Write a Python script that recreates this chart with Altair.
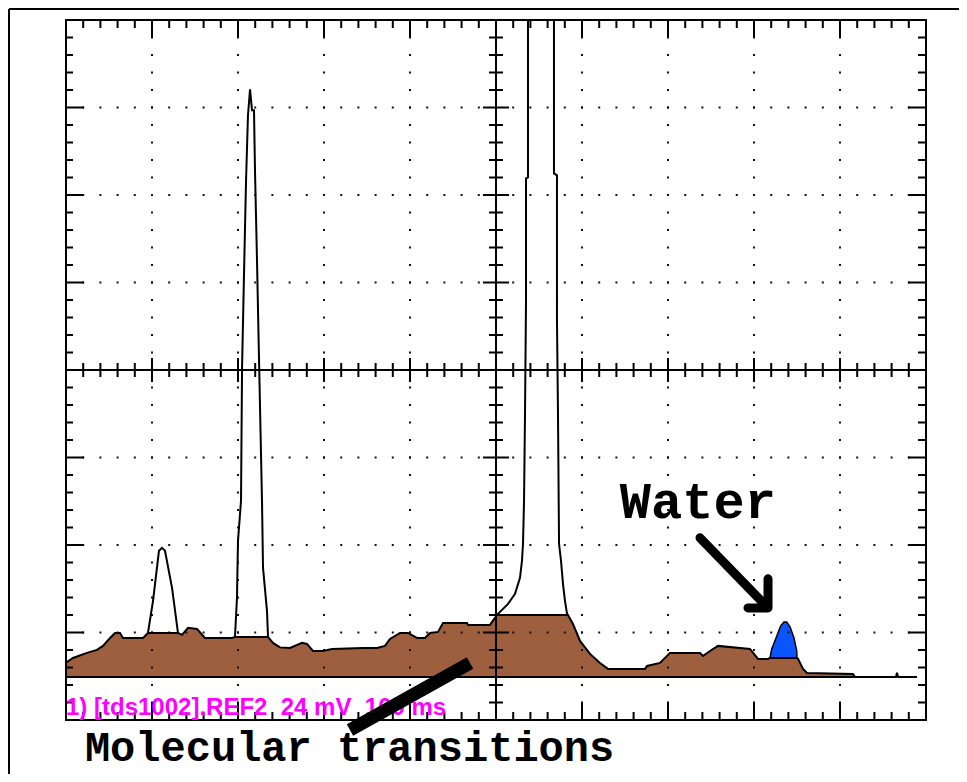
import altair as alt
import pandas as pd

# ---------------- data (x in horizontal divisions 0..10, y in vertical divisions 0..8) ----------------
BASELINE = 0.492          # zero level of the stored reference trace
WATER_BASE = 0.709        # level on which the water line sits

# brown filled background (molecular transitions)
brown_x = [0.000, 0.081, 0.244, 0.360, 0.430, 0.512, 0.570, 0.628, 0.663, 0.895, 0.953, 1.302, 1.349,
           1.419, 1.523, 1.616, 1.930, 1.965, 2.349, 2.407, 2.488, 2.605, 2.744, 2.802, 2.872, 2.988,
           3.093, 3.453, 3.616, 3.709, 3.767, 3.884, 3.977, 4.081, 4.174, 4.233, 4.326, 4.384, 4.663,
           4.674, 4.930, 4.988, 5.012, 5.837, 5.895, 5.977, 6.093, 6.209, 6.302, 6.733, 6.756, 6.907,
           7.023, 7.372, 7.407, 7.488, 7.581, 7.953, 8.047, 8.163, 8.186, 8.500, 8.512, 8.570, 8.616,
           9.151, 9.174]
brown_y = [0.656, 0.709, 0.767, 0.801, 0.847, 0.938, 0.995, 0.995, 0.938, 0.938, 0.995, 0.995, 0.973,
           1.053, 1.041, 0.938, 0.938, 0.950, 0.950, 0.881, 0.830, 0.824, 0.881, 0.870, 0.789, 0.789,
           0.812, 0.824, 0.824, 0.847, 0.927, 0.995, 0.995, 0.938, 0.938, 0.995, 1.007, 1.110, 1.110,
           1.087, 1.087, 1.167, 1.201, 1.201, 1.098, 0.904, 0.755, 0.652, 0.584, 0.584, 0.618, 0.652,
           0.767, 0.767, 0.732, 0.789, 0.847, 0.812, 0.698, 0.698, 0.709, 0.709, 0.698, 0.584, 0.538,
           0.526, 0.492]

# peaks of the live trace (black outline only)
peak1_x = [0.953, 1.012, 1.081, 1.116, 1.151, 1.233, 1.302]
peak1_y = [0.995, 1.362, 1.934, 1.968, 1.934, 1.510, 0.995]

peak2_x = [1.965, 1.988, 2.000, 2.035, 2.047, 2.070, 2.093, 2.116, 2.140, 2.163, 2.186, 2.198, 2.221,
           2.244, 2.279, 2.291, 2.337, 2.349]
peak2_y = [0.950, 1.396, 2.048, 2.506, 4.016, 5.103, 6.144, 6.911, 7.208, 6.968, 6.968, 6.259, 5.252,
           4.142, 2.506, 1.739, 1.247, 0.950]

peak3_x = [5.012, 5.023, 5.140, 5.221, 5.279, 5.302, 5.314, 5.326, 5.337, 5.349, 5.349, 5.372, 5.372,
           5.674, 5.674, 5.709, 5.709, 5.721, 5.733, 5.756, 5.779, 5.802, 5.826, 5.837]
peak3_y = [1.201, 1.213, 1.327, 1.442, 1.625, 1.819, 2.014, 2.506, 3.478, 4.794, 6.190, 6.201, 8.600,
           8.600, 6.247, 6.224, 4.565, 3.478, 2.014, 1.819, 1.556, 1.362, 1.213, 1.201]

tail_x = [9.174, 9.651, 9.663, 9.675, 9.895]
tail_y = [0.492, 0.492, 0.540, 0.492, 0.492]

# water peak (blue)
water_x = [8.186, 8.206, 8.256, 8.310, 8.349, 8.380, 8.419, 8.465, 8.497, 8.500]
water_y = [0.709, 0.812, 0.938, 1.076, 1.121, 1.121, 1.064, 0.938, 0.789, 0.709]

# annotations
NB = "\u00a0"
water_label = "Water"
molecular_label = "Molecular transitions"
scope_label = "1) [tds1002].REF2" + NB * 2 + "24 mV" + NB * 2 + "100 ms"
water_arrow_x = [7.372, 8.140]
water_arrow_y = [2.082, 1.304]
water_head_x = [7.930, 8.163, 8.163]
water_head_y = [1.281, 1.281, 1.613]
mol_arrow_x = [3.302, 4.698]
mol_arrow_y = [-0.114, 0.652]

# scope graticule
X_DIVS = 10
Y_DIVS = 8
MINOR = 5

BROWN = "#9E5F3F"
BLUE = "#0A55FF"
MAGENTA = "#FF00FF"

# ---------------- scales ----------------
xs = alt.Scale(domain=[0, X_DIVS], nice=False, zero=False)
ys = alt.Scale(domain=[0, Y_DIVS], nice=False, zero=False)


def X(f="x"):
    return alt.X(f, type="quantitative", scale=xs, axis=None)


def Y(f="y"):
    return alt.Y(f, type="quantitative", scale=ys, axis=None)


# ---------------- graticule ----------------
dots = []
for xi in range(1, X_DIVS):
    if xi == X_DIVS // 2:
        continue
    for k in range(1, Y_DIVS * MINOR):
        dots.append({"x": xi, "y": k / MINOR})
for yi in range(1, Y_DIVS):
    if yi == Y_DIVS // 2:
        continue
    for k in range(1, X_DIVS * MINOR):
        dots.append({"x": k / MINOR, "y": yi})
dots_df = pd.DataFrame(dots)
grid_dots = alt.Chart(dots_df).mark_square(size=4, color="#111", opacity=1).encode(x=X(), y=Y())

cross_v = alt.Chart(pd.DataFrame({"x": [X_DIVS / 2]})).mark_rule(color="black", strokeWidth=2).encode(x=X())
cross_h = alt.Chart(pd.DataFrame({"y": [Y_DIVS / 2]})).mark_rule(color="black", strokeWidth=2).encode(y=Y())

# ticks on the crosshair and on the frame
vt = []  # vertical ticks along horizontal lines
for k in range(1, X_DIVS * MINOR):
    major = k % MINOR == 0
    vt.append({"x": k / MINOR, "y": Y_DIVS / 2, "len": 24 if major else 14})
    vt.append({"x": k / MINOR, "y": 0, "len": 36 if major else 16})
    vt.append({"x": k / MINOR, "y": Y_DIVS, "len": 36 if major else 16})
ht = []  # horizontal ticks along vertical lines
for k in range(1, Y_DIVS * MINOR):
    major = k % MINOR == 0
    ht.append({"x": X_DIVS / 2, "y": k / MINOR, "len": 26 if major else 14})
    ht.append({"x": 0, "y": k / MINOR, "len": 36 if major else 14})
    ht.append({"x": X_DIVS, "y": k / MINOR, "len": 36 if major else 16})

vticks = alt.Chart(pd.DataFrame(vt)).mark_tick(orient="vertical", thickness=2, color="black", clip=True, opacity=1).encode(
    x=X(), y=Y(), size=alt.Size("len:Q", scale=None, legend=None))
hticks = alt.Chart(pd.DataFrame(ht)).mark_tick(orient="horizontal", thickness=2, color="black", clip=True, opacity=1).encode(
    x=X(), y=Y(), size=alt.Size("len:Q", scale=None, legend=None))

frame = alt.Chart(pd.DataFrame({"x": [0], "x2": [X_DIVS], "y": [0], "y2": [Y_DIVS]})).mark_rect(
    fillOpacity=0, stroke="black", strokeWidth=2).encode(x=X(), x2="x2", y=Y(), y2="y2")

# ---------------- signal ----------------
brown_df = pd.DataFrame({"x": brown_x, "y": brown_y, "base": BASELINE})
brown_area = alt.Chart(brown_df).mark_area(color=BROWN, opacity=1).encode(x=X(), y=Y(), y2="base")

water_df = pd.DataFrame({"x": water_x, "y": water_y, "base": WATER_BASE})
water_area = alt.Chart(water_df).mark_area(color=BLUE, opacity=1, stroke="black", strokeWidth=1.5).encode(
    x=X(), y=Y(), y2="base")

segs = []
for name, xx, yy in [("brown", brown_x, brown_y), ("p1", peak1_x, peak1_y), ("p2", peak2_x, peak2_y),
                     ("p3", peak3_x, peak3_y), ("tail", tail_x, tail_y),
                     ("base", [0, brown_x[-1]], [BASELINE, BASELINE])]:
    for i, (a, b) in enumerate(zip(xx, yy)):
        segs.append({"seg": name, "i": i, "x": a, "y": b})
trace = alt.Chart(pd.DataFrame(segs)).mark_line(color="black", strokeWidth=2, clip=True, strokeJoin="miter").encode(
    x=X(), y=Y(), detail="seg:N", order="i:Q")

# ---------------- annotations ----------------
scope_text = alt.Chart(pd.DataFrame({"x": [0.0], "y": [0.057], "t": [scope_label]})).mark_text(
    align="left", baseline="alphabetic", font="Liberation Sans", fontWeight="bold", fontSize=24,
    color=MAGENTA).encode(x=X(), y=Y(), text="t:N")

arrows = []
for name, xx, yy in [("shaft", water_arrow_x, water_arrow_y), ("head", water_head_x, water_head_y)]:
    for i, (a, b) in enumerate(zip(xx, yy)):
        arrows.append({"seg": name, "i": i, "x": a, "y": b})
water_arrow = alt.Chart(pd.DataFrame(arrows)).mark_line(color="black", strokeWidth=9, strokeCap="round",
                                                        strokeJoin="round").encode(
    x=X(), y=Y(), detail="seg:N", order="i:Q")

mol_arrow = alt.Chart(pd.DataFrame({"x": mol_arrow_x, "y": mol_arrow_y})).mark_line(
    color="black", strokeWidth=13, strokeCap="butt").encode(x=X(), y=Y())

labels = alt.Chart(pd.DataFrame({
    "x": [6.44, 0.22], "y": [2.311, -0.469], "t": [water_label, molecular_label], "s": [52, 42]})).mark_text(
    align="left", baseline="alphabetic", font="Liberation Mono", fontWeight="bold", color="black").encode(
    x=X(), y=Y(), text="t:N", size=alt.Size("s:Q", scale=None, legend=None))

# outer picture border (decoration)
one = pd.DataFrame({"a": [0]})
border_top = alt.Chart(one).mark_rule(color="black", strokeWidth=2).encode(
    x=alt.value(-57), x2=alt.value(900), y=alt.value(-11))
border_left = alt.Chart(one).mark_rule(color="black", strokeWidth=2).encode(
    x=alt.value(-57), y=alt.value(-11), y2=alt.value(760))

chart = alt.layer(
    brown_area, water_area, grid_dots, cross_v, cross_h, vticks, hticks, trace, frame,
    scope_text, mol_arrow, water_arrow, labels, border_top, border_left
).properties(
    width=860, height=700,
    autosize=alt.AutoSizeParams(type="none"),
    padding={"left": 58, "top": 12, "right": 33, "bottom": 54},
    background="white",
).configure_view(strokeWidth=0)

chart.save("out.html", embed_options={"renderer": "svg", "actions": False})
